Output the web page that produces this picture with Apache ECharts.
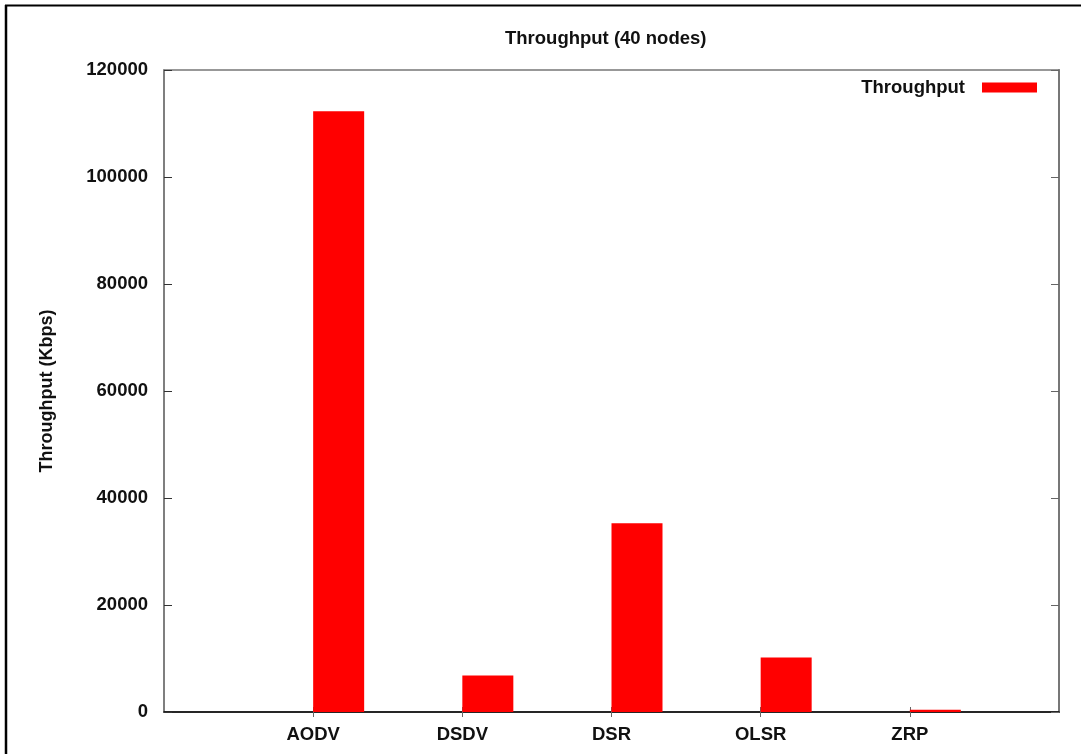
<!DOCTYPE html>
<html>
<head>
<meta charset="utf-8">
<script src="https://cdn.jsdelivr.net/npm/echarts@6/dist/echarts.min.js"></script>
<style>html,body{margin:0;padding:0;background:#fff;}#c{width:1081px;height:754px;}</style>
</head>
<body>
<div id="c"></div>
<script>
var categories = ['AODV', 'DSDV', 'DSR', 'OLSR', 'ZRP'];
var throughput = [112300, 6800, 35300, 10200, 400];
var yTicks = [0, 20000, 40000, 60000, 80000, 100000, 120000];
var titleText = 'Throughput (40 nodes)';
var yName = 'Throughput (Kbps)';
var seriesName = 'Throughput';

var padded = [''].concat(categories).concat(['']);
var paddedVals = [null].concat(throughput).concat([null]);
var emptyVals = padded.map(function () { return null; });

var font = "'Liberation Sans', Arial, sans-serif";
var chart = echarts.init(document.getElementById('c'), null, {renderer: 'canvas'});
var tickFn = function (i) { return i > 0 && i < padded.length - 1; };
chart.setOption({
  backgroundColor: '#fff',
  animation: false,
  title: {
    text: titleText, left: 505, top: 29, padding: 0,
    textStyle: {fontFamily: font, fontWeight: 'bold', fontSize: 18.5, color: '#111'}
  },
  legend: {
    data: [seriesName], right: 44, top: 78, align: 'right', padding: 0,
    itemWidth: 55, itemHeight: 10, icon: 'rect',
    textStyle: {fontFamily: font, fontWeight: 'bold', fontSize: 18.5, color: '#111', padding: [0, 12, 0, 0]}
  },
  grid: {left: 164, top: 70, width: 895, height: 642, show: true, borderColor: '#777', borderWidth: 1.5, containLabel: false},
  xAxis: [{
    type: 'category', data: padded, boundaryGap: false, position: 'bottom',
    axisLine: {lineStyle: {color: '#000', width: 1.5}},
    axisTick: {inside: true, length: 5, interval: tickFn, lineStyle: {color: '#666'}},
    axisLabel: {interval: 0, margin: 13, fontFamily: font, fontWeight: 'bold', fontSize: 18.5, color: '#111'},
    splitLine: {show: false}
  }, {
    type: 'category', data: padded, boundaryGap: false, position: 'top',
    axisLine: {show: false},
    axisTick: {inside: true, length: 5, interval: tickFn, lineStyle: {color: '#666'}},
    axisLabel: {show: false}, splitLine: {show: false}
  }],
  yAxis: [{
    type: 'value', min: yTicks[0], max: yTicks[yTicks.length - 1], interval: yTicks[1] - yTicks[0],
    name: yName, nameLocation: 'middle', nameRotate: 90, nameGap: 108,
    nameTextStyle: {fontFamily: font, fontWeight: 'bold', fontSize: 18, color: '#111'},
    axisLine: {show: true, lineStyle: {color: '#777', width: 1.5}},
    axisTick: {show: true, inside: true, length: 8, lineStyle: {color: '#333'}},
    axisLabel: {margin: 16, fontFamily: font, fontWeight: 'bold', fontSize: 18.5, color: '#111',
      formatter: function (v) { return String(v); }},
    splitLine: {show: false}
  }, {
    type: 'value', min: yTicks[0], max: yTicks[yTicks.length - 1], interval: yTicks[1] - yTicks[0], position: 'right',
    axisLine: {show: true, lineStyle: {color: '#777', width: 2}},
    axisTick: {show: true, inside: true, length: 8, lineStyle: {color: '#666'}},
    axisLabel: {show: false}, splitLine: {show: false}
  }],
  series: [{
    name: '_pad', type: 'bar', data: emptyVals, barWidth: 51, barGap: '0%',
    itemStyle: {color: 'rgba(0,0,0,0)'}, silent: true
  }, {
    name: seriesName, type: 'bar', data: paddedVals, barWidth: 51, barGap: '0%',
    itemStyle: {color: '#ff0000'}
  }],
  graphic: [
    {type: 'line', shape: {x1: 6, y1: 5, x2: 6, y2: 760}, style: {stroke: '#000', lineWidth: 2.5}},
    {type: 'line', shape: {x1: 5, y1: 5.5, x2: 1081, y2: 5.5}, style: {stroke: '#000', lineWidth: 2}}
  ]
});
</script>
</body>
</html>
